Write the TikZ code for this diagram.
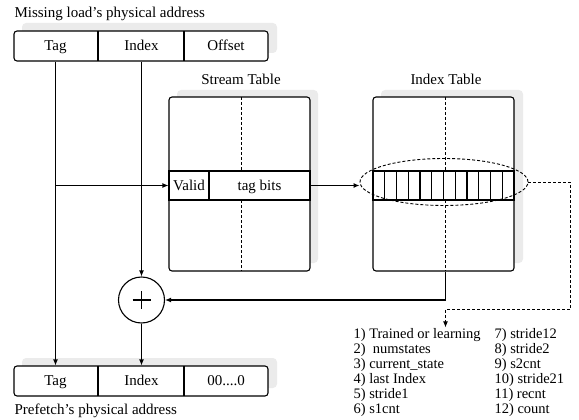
\documentclass[tikz,border=0pt]{standalone}
\usepackage{fontspec}
\setmainfont{Liberation Serif}
\usetikzlibrary{arrows.meta,shapes.geometric,calc}
\begin{document}
\begin{tikzpicture}[x=1pt,y=-1pt,
  line width=1.1pt,
  >={Latex[length=6pt,width=5pt]},
  txt/.style={font=\fontsize{15}{17}\selectfont, inner sep=0pt},
  lst/.style={font=\fontsize{14.5}{15}\selectfont, inner sep=0pt},
  shade/.style={fill=black!8, draw=none, rounded corners=4pt},
  frame/.style={draw, rounded corners=3pt, fill=white, inner sep=0pt},
  rowbox/.style={draw, fill=white, inner sep=0pt},
  dsh/.style={dash pattern=on 3pt off 2pt, line width=0.9pt}]
\useasboundingbox (0,0) rectangle (579,420);

% ---- missing load's address
\node[txt, anchor=base west] (topLbl) at (14,18) {Missing load’s physical address};
\fill[shade] (22,23) rectangle (277,53);
\node[frame, minimum width=254pt, minimum height=30pt] (addr) at (141,46) {};
\draw (98,31) -- (98,61) (184,31) -- (184,61);
\node[txt, anchor=base] (tagA) at (55.5,50.5) {Tag};
\node[txt, anchor=base] (idxA) at (141.5,50.5) {Index};
\node[txt, anchor=base] (offA) at (226,50.5) {Offset};

% ---- stream table
\node[txt, anchor=base] (stitle) at (241,84.5) {Stream Table};
\fill[shade] (177,90) rectangle (318,263);
\node[frame, minimum width=141pt, minimum height=174pt] (stab) at (239.5,184) {};
\draw[dsh] (241,97) -- (241,171) (241,200) -- (241,271);
\node[rowbox, minimum width=141pt, minimum height=29pt] (srow) at (239.5,185.5) {};
\draw (209,171) -- (209,200);
\node[txt, anchor=base] (valid) at (189,190) {Valid};
\node[txt, anchor=base] (tagbits) at (259.5,190) {tag bits};

% ---- index table
\node[txt, anchor=base] (ititle) at (446,84.5) {Index Table};
\fill[shade] (381,90) rectangle (523,263);
\node[frame, minimum width=141pt, minimum height=174pt] (itab) at (443.5,184) {};
\draw[dsh] (445.5,97) -- (445.5,171) (445.5,200) -- (445.5,271);
\node[rowbox, minimum width=141pt, minimum height=29pt] (irow) at (443.5,185.5) {};
\foreach \k in {1,...,11}
  \draw ({373+11.75*\k},171) -- ({373+11.75*\k},200);
\node[draw, dsh, ellipse, minimum width=168pt, minimum height=47pt, inner sep=0pt] (ell) at (444,182) {};

% ---- adder
\node[draw, circle, minimum size=46pt, inner sep=0pt] (plus) at (141.5,300) {};
\draw (plus.center) ++(-9,0) -- ++(18,0);
\draw (plus.center) ++(0,-9) -- ++(0,18);

% ---- prefetch address
\fill[shade] (22,358) rectangle (277,388);
\node[frame, minimum width=254pt, minimum height=30pt] (addrB) at (141,381) {};
\draw (98,366) -- (98,396) (184,366) -- (184,396);
\node[txt, anchor=base] (tagB) at (55.5,385.5) {Tag};
\node[txt, anchor=base] (idxB) at (141.5,385.5) {Index};
\node[txt, anchor=base] (zeroB) at (226,385.5) {00....0};
\node[txt, anchor=base west] (botLbl) at (14,414.5) {Prefetch’s physical address};

% ---- field list
\foreach \t [count=\i] in {1) Trained or learning, 2)~ numstates, 3) current\_state,
    4) last Index, 5) stride1, 6) s1cnt}
  \node[lst, anchor=base west] (it\i) at (353,{338+15*(\i-1)}) {\t};
\foreach \t [count=\i] in {7) stride12, 8) stride2, 9) s2cnt,
    10) stride21, 11) recnt, 12) count}
  \node[lst, anchor=base west] (jt\i) at (494,{338+15*(\i-1)}) {\t};

% ---- connectors
\draw[->] (tagA |- addr.south) -- (tagA |- addrB.north);
\draw[->] (tagA |- srow) -- (srow.west);
\draw[->] (srow.east) -- (srow.east -| ell.west);
\draw[->] (idxA |- addr.south) -- (plus.north);
\draw[->] (itab.south -| 445.5,0) |- (plus.east);
\draw[->] (plus.south) -- (idxB |- addrB.north);
\coordinate (bend) at (570.5,309.5);
\draw[dsh,->] (ell.east) -| (bend) -- (bend -| 445.5,0) -- (445.5,0 |- it1.north);
\end{tikzpicture}
\end{document}
